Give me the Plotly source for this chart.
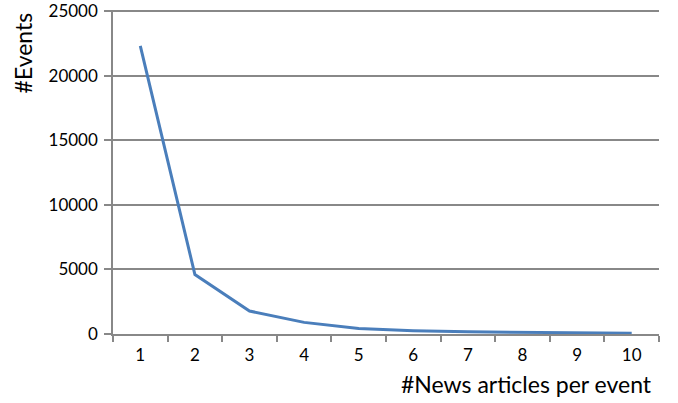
import plotly.graph_objects as go

# Number of events by how many news articles report them
articles_per_event = ["1", "2", "3", "4", "5", "6", "7", "8", "9", "10"]
event_counts = [22300, 4600, 1780, 900, 420, 260, 170, 120, 90, 60]

y_ticks = [0, 5000, 10000, 15000, 20000, 25000]

axis_grey = "#888888"
font_family = "Lato, Liberation Sans, sans-serif"

fig = go.Figure()
fig.add_trace(go.Scatter(
    x=articles_per_event,
    y=event_counts,
    mode="lines",
    line=dict(color="#4a7ebb", width=3),
    showlegend=False,
))

fig.update_layout(
    width=678,
    height=403,
    margin=dict(l=113, r=19, t=10, b=69),
    paper_bgcolor="white",
    plot_bgcolor="white",
    font=dict(family=font_family, size=17, color="black"),
    xaxis=dict(
        type="category",
        range=[-0.5, len(articles_per_event) - 0.5],
        tickson="boundaries",
        ticks="outside",
        ticklen=6,
        tickcolor=axis_grey,
        tickwidth=1.5,
        showline=True,
        linecolor=axis_grey,
        linewidth=1.5,
        showgrid=False,
        tickfont=dict(size=17),
        ticklabelstandoff=5,
        automargin=False,
    ),
    yaxis=dict(
        range=[0, 25080],
        tickvals=y_ticks,
        ticktext=[str(v) for v in y_ticks],
        ticks="outside",
        ticklen=7,
        tickcolor=axis_grey,
        tickwidth=1.5,
        showline=True,
        linecolor=axis_grey,
        linewidth=1.5,
        showgrid=True,
        gridcolor=axis_grey,
        gridwidth=1.5,
        zeroline=False,
        tickfont=dict(size=17),
        ticklabelstandoff=3,
        ticklabeloverflow="allow",
        automargin=False,
    ),
    annotations=[
        dict(
            text="#Events",
            xref="paper", yref="paper",
            x=-0.165, y=1.0,
            xanchor="center", yanchor="top",
            textangle=-90,
            showarrow=False,
            font=dict(size=23),
        ),
        dict(
            text="#News articles per event",
            xref="paper", yref="paper",
            x=0.99, y=-0.105,
            xanchor="right", yanchor="top",
            showarrow=False,
            font=dict(size=23),
        ),
    ],
)

fig.write_html("out.html")
